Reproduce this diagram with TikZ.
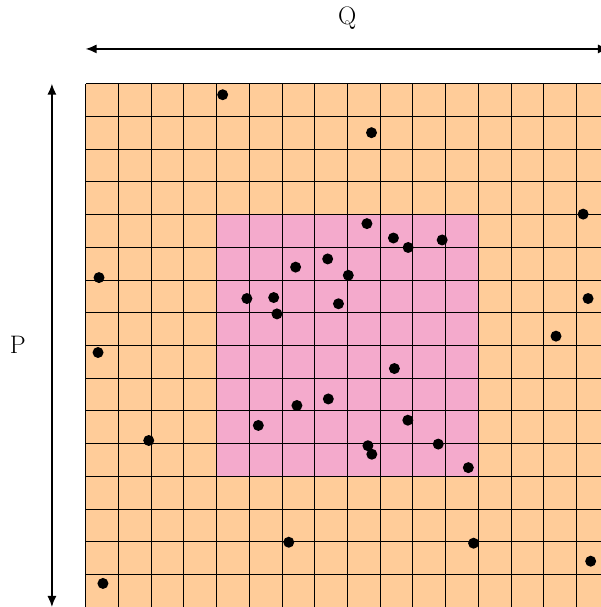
\documentclass[tikz,border=0pt]{standalone}
\usepackage{tikz}
\usetikzlibrary{arrows.meta}
\definecolor{peach}{RGB}{255,204,153}
\definecolor{rose}{RGB}{244,170,204}

\begin{document}
\begin{tikzpicture}[font=\fontsize{22}{26}\selectfont,
   cellgrid/.style={draw=black,line width=0.45pt},
   dimline/.style={{Latex[length=3.4mm,width=2.8mm]}-{Latex[length=3.4mm,width=2.8mm]},line width=1.3pt},
   sample/.style={fill=black}]
  \useasboundingbox (-2.617,0) rectangle (15.735,18.556);
  % field and inner window
  \fill[peach] (0,0) rectangle (16,16);
  \fill[rose] (4,4) rectangle (12,12);
  \draw[cellgrid] (0,0) grid (16,16);
  % sample points
  \foreach \px/\py in {8.60/11.72, 9.41/11.28, 9.86/10.99, 10.90/11.22, 7.40/10.64,
      6.42/10.39, 8.03/10.14, 4.93/9.43, 5.75/9.46, 5.85/8.96, 7.73/9.27,
      9.44/7.29, 7.42/6.36, 6.46/6.16, 5.28/5.55, 9.85/5.71, 8.63/4.93,
      8.75/4.67, 10.78/4.98, 11.70/4.26, 4.19/15.66, 8.74/14.50, 0.41/10.07,
      0.38/7.78, 1.93/5.09, 6.21/1.98, 11.86/1.95, 0.53/0.72, 15.21/12.01,
      15.36/9.43, 14.38/8.28, 15.44/1.40}
    \fill[sample] (\px,\py) circle (0.168);
  % dimensions
  \coordinate (qleft) at (0,17.06);
  \coordinate (qright) at (16,17.06);
  \coordinate (ptop) at (-1.03,16);
  \coordinate (pbot) at (-1.03,0);
  \draw[dimline] (qleft) -- (qright);
  \draw[dimline] (ptop) -- (pbot);
  \node (qlabel) at (8,18.0) {Q};
  \node (plabel) at (-2.07,8) {P};
\end{tikzpicture}
\end{document}
